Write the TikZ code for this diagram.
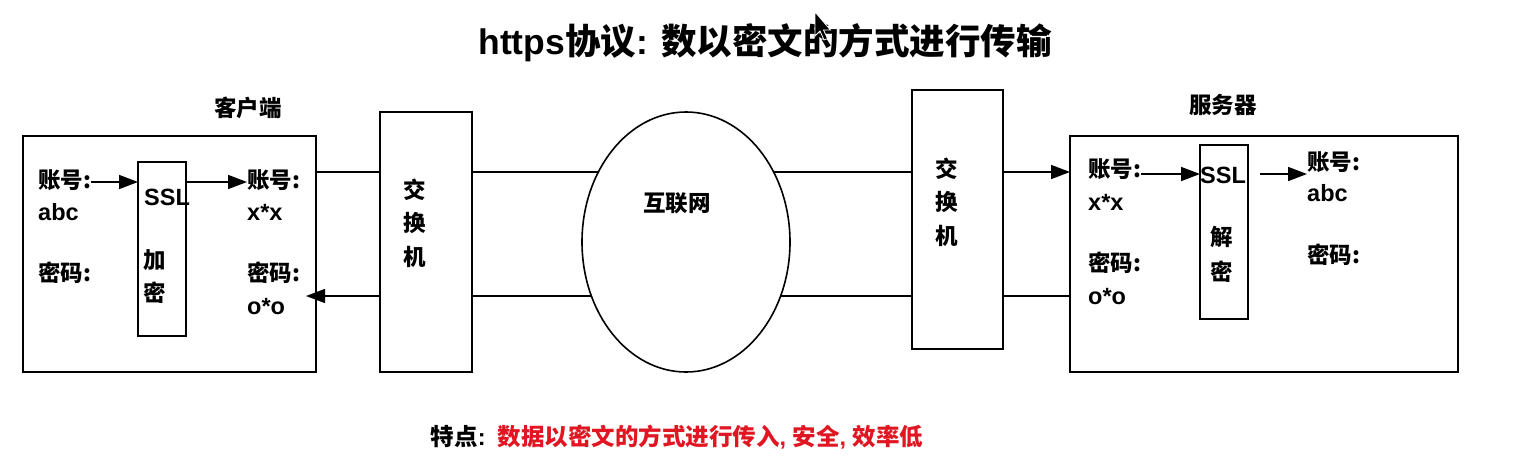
\documentclass[tikz,border=0pt]{standalone}
\usepackage{fontspec}
\setmainfont{Liberation Sans}
\newfontfamily\cjk{Noto Sans CJK SC}
\usetikzlibrary{arrows.meta,shapes.geometric}
\newcommand\zh[1]{{\cjk #1}}
\definecolor{redtxt}{RGB}{224,22,34}
\begin{document}
\begin{tikzpicture}[x=1pt,y=-1pt,
 box/.style={draw, line width=1.6pt, inner sep=0pt, outer sep=0pt},
 lbl/.style={font=\cjk\bfseries\fontsize{22.5}{26}\selectfont, inner sep=0pt, anchor=west},
 lat/.style={font=\bfseries\fontsize{23.5}{26}\selectfont, inner sep=0pt, anchor=west},
 swt/.style={font=\cjk\bfseries\fontsize{22.5}{33.5}\selectfont, inner sep=0pt, align=center},
 conn/.style={line width=1.6pt},
 arr/.style={conn, -{Triangle[length=19pt,width=14pt]}},
]
\fill[white] (0,0) rectangle (1538,474);
\useasboundingbox (0,0) rectangle (1538,474);

% title
\node[font=\bfseries\fontsize{35.5}{40}\selectfont, inner sep=0pt] (title) at (765,43) {https\zh{协议}: \zh{数以密文的方式进行传输}};
\fill[black, draw=white, line width=0.8pt] (815,12) -- ++(0,24) -- ++(5,-5) -- ++(4,9) -- ++(3.5,-1.5) -- ++(-4,-8.5) -- ++(7,0) -- cycle;

% boxes
\node[box, minimum width=293pt, minimum height=236pt] (client) at (169.5,254) {};
\node[box, minimum width=48pt, minimum height=174pt] (lssl) at (162,249) {};
\node[box, minimum width=92pt, minimum height=260pt] (lsw) at (426,242) {};
\node[box, ellipse, minimum width=208pt, minimum height=260pt] (net) at (686,242) {};
\node[box, minimum width=91pt, minimum height=259pt] (rsw) at (957.5,219.5) {};
\node[box, minimum width=388pt, minimum height=236pt] (server) at (1264,254) {};
\node[box, minimum width=48pt, minimum height=174pt] (rssl) at (1224,232) {};

% labels above
\node[lbl, anchor=center] (clientl) at (248,108) {客户端};
\node[lbl, anchor=center] (serverl) at (1223,105) {服务器};
\node[lbl, anchor=center] (netl) at (677,203) {互联网};
\node[swt] (lswt) at (415,223) {交\\换\\机};
\node[swt] (rswt) at (947,202) {交\\换\\机};

% connectors between boxes
\coordinate (yu) at (0,172);
\coordinate (yl) at (0,296);
\coordinate (ltip) at (306,296);
\draw[conn] (client.east |- yu) -- (lsw.west |- yu);
\draw[arr] (lsw.west |- yl) -- (ltip);
\draw[conn] (lsw.east |- yu) -- (net.141.4 |- yu);
\draw[conn] (net.209.7 |- yl) -- (lsw.east |- yl);
\draw[conn] (net.38.6 |- yu) -- (rsw.west |- yu);
\draw[conn] (rsw.west |- yl) -- (net.-29.7 |- yl);
\draw[arr] (rsw.east |- yu) -- (server.west |- yu);
\draw[conn] (server.west |- yl) -- (rsw.east |- yl);

% client texts
\node[lbl] (la1) at (38,180) {账号:};
\node[lat] (la2) at (38,212) {abc};
\node[lbl] (la3) at (38,273) {密码:};
\node[lat] (lsslt) at (144,197) {SSL};
\node[lbl, anchor=center] (lenc1) at (155,260) {加};
\node[lbl, anchor=center] (lenc2) at (155,293) {密};
\node[lbl] (lb1) at (247,180) {账号:};
\node[lat] (lb2) at (247,212) {x*x};
\node[lbl] (lb3) at (247,273) {密码:};
\node[lat] (lb4) at (247,307) {o*o};
\coordinate (ly) at (0,182);
\draw[arr] (la1.east |- ly) -- (lssl.west |- ly);
\draw[arr] (lssl.east |- ly) -- (lb1.west |- ly);

% server texts
\node[lbl] (ra1) at (1088,169) {账号:};
\node[lat] (ra2) at (1088,202) {x*x};
\node[lbl] (ra3) at (1088,263) {密码:};
\node[lat] (ra4) at (1088,297) {o*o};
\node[lat] (rsslt) at (1200,175) {SSL};
\node[lbl, anchor=center] (rdec1) at (1222,237) {解};
\node[lbl, anchor=center] (rdec2) at (1222,272) {密};
\node[lbl] (rb1) at (1307,162) {账号:};
\node[lat] (rb2) at (1307,193) {abc};
\node[lbl] (rb3) at (1307,255) {密码:};
\coordinate (ry) at (0,174);
\coordinate (rstart) at (1260,174);
\draw[arr] (ra1.east |- ry) -- (rssl.west |- ry);
\draw[arr] (rstart) -- (rb1.west |- ry);

% bottom note
\node[font=\bfseries\fontsize{23.5}{26}\selectfont, inner sep=0pt] (note) at (677,437) {\zh{特点}:\hspace{12pt}\textcolor{redtxt}{\zh{数据以密文的方式进行传入}, \zh{安全}, \zh{效率低}}};
\end{tikzpicture}
\end{document}
